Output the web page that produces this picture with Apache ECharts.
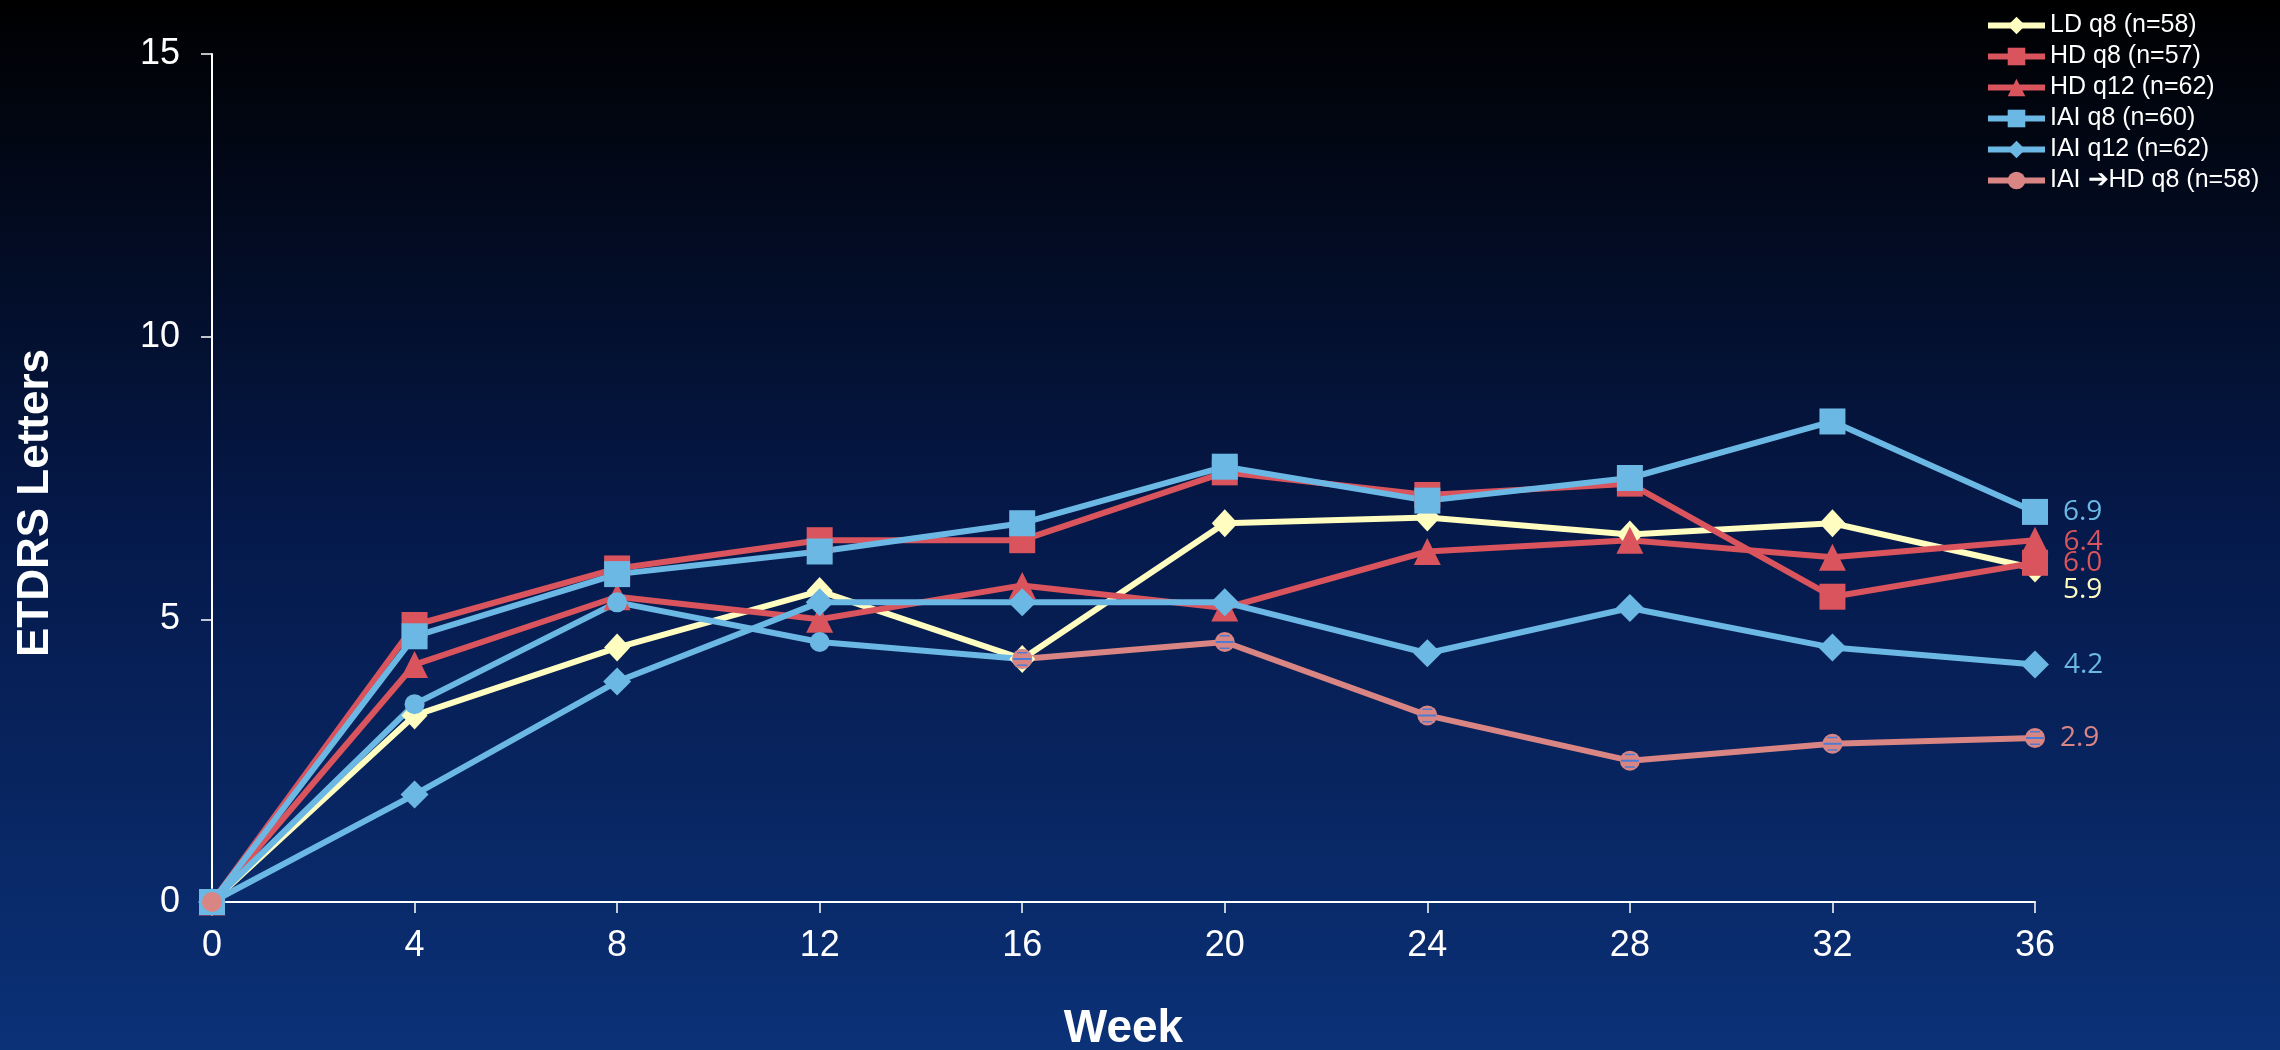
<!DOCTYPE html>
<html>
<head>
<meta charset="utf-8">
<title>ETDRS Letters by Week</title>
<script src="https://cdn.jsdelivr.net/npm/echarts@6/dist/echarts.min.js"></script>
<style>
  html, body { margin: 0; padding: 0; background: #000; }
  #chart { width: 2280px; height: 1050px; }
</style>
</head>
<body>
<div id="chart"></div>
<script>
// data
var weeks = [0, 4, 8, 12, 16, 20, 24, 28, 32, 36];
var yTicks = [0, 5, 10, 15];

var ldQ8 = [0, 3.3, 4.5, 5.5, 4.3, 6.7, 6.8, 6.5, 6.7, 5.9];
var hdQ8 = [0, 4.9, 5.9, 6.4, 6.4, 7.6, 7.2, 7.4, 5.4, 6.0];
var hdQ12 = [0, 4.2, 5.4, 5.0, 5.6, 5.2, 6.2, 6.4, 6.1, 6.4];
var iaiQ8 = [0, 4.7, 5.8, 6.2, 6.7, 7.7, 7.1, 7.5, 8.5, 6.9];
var iaiQ12 = [0, 1.9, 3.9, 5.3, 5.3, 5.3, 4.4, 5.2, 4.5, 4.2];
var iaiHdQ8 = [0, 3.5, 5.3, 4.6, 4.3, 4.6, 3.3, 2.5, 2.8, 2.9];
var switchWeekIdx = 4; // IAI until week 16, then HD q8

var names = ['LD q8 (n=58)', 'HD q8 (n=57)', 'HD q12 (n=62)', 'IAI q8 (n=60)', 'IAI q12 (n=62)', 'IAI \u2794HD q8 (n=58)'];

var YELLOW = '#fffdc0';
var RED = '#d9545c';
var BLUE = '#6cb8e4';
var SALMON = '#d98584';
var STRIPE = '#4f7bd0';

var chart = echarts.init(document.getElementById('chart'));

// turn values into [week, value] pairs, labelling the last one
function toPoints(vals, color, labelOffset) {
    var last = vals.length - 1;
    return vals.map(function (v, i) {
        if (v === null) return [weeks[i], null];
        if (i === last && color) {
            return {
                value: [weeks[i], v],
                label: {
                    show: true,
                    position: 'right',
                    distance: 15,
                    offset: labelOffset || [0, 0],
                    color: color,
                    fontFamily: 'Open Sans',
                    fontSize: 28,
                    formatter: function (p) { return p.value[1].toFixed(1); }
                }
            };
        }
        return [weeks[i], v];
    });
}

function lineSeries(name, vals, color, symbol, size, labelOffset) {
    return {
        name: name,
        type: 'line',
        data: toPoints(vals, color, labelOffset),
        symbol: symbol,
        symbolSize: size,
        showAllSymbol: true,
        connectNulls: false,
        lineStyle: { color: color, width: 6 },
        itemStyle: { color: color, opacity: 1 },
        emphasis: { disabled: true },
        animation: false
    };
}

// IAI -> HD: blue circles up to the switch, salmon after
var iaiPart = iaiHdQ8.map(function (v, i) { return i <= switchWeekIdx ? v : null; });
var hdPart = iaiHdQ8.map(function (v, i) { return (i >= switchWeekIdx || i === 0) ? v : null; });
var stripePart = iaiHdQ8.map(function (v, i) { return i >= switchWeekIdx ? v : null; });

var series = [
    lineSeries(names[0], ldQ8, YELLOW, 'diamond', [26, 28], [0, 22]),
    lineSeries(names[1], hdQ8, RED, 'rect', 26, [0, 0]),
    lineSeries(names[2], hdQ12, RED, 'triangle', 27, [0, 2]),
    lineSeries(names[3], iaiQ8, BLUE, 'rect', 26, [0, 0]),
    lineSeries(names[4], iaiQ12, BLUE, 'diamond', [28, 28], [0, 0]),
    {
        name: 'IAI part',
        type: 'line',
        data: toPoints(iaiPart, null),
        symbol: 'circle',
        symbolSize: 20,
        showAllSymbol: true,
        lineStyle: { color: BLUE, width: 6 },
        itemStyle: { color: BLUE },
        emphasis: { disabled: true },
        animation: false
    },
    lineSeries(names[5], hdPart, SALMON, 'circle', 20, [0, 0]),
    {
        name: 'stripes',
        type: 'line',
        data: toPoints(stripePart, null),
        symbol: 'path://M5,3h10v1.5h-10z M1,9h18v2h-18z M5,15.5h10v1.5h-10z',
        symbolSize: [18, 14],
        showAllSymbol: true,
        lineStyle: { width: 0, opacity: 0 },
        itemStyle: { color: STRIPE },
        silent: true,
        emphasis: { disabled: true },
        animation: false
    }
];

var option = {
    backgroundColor: {
        type: 'linear', x: 0, y: 0, x2: 0, y2: 1,
        colorStops: [
            { offset: 0, color: '#000000' },
            { offset: 0.08, color: '#01040c' },
            { offset: 0.5, color: '#05194a' },
            { offset: 1, color: '#0b3177' }
        ]
    },
    textStyle: { fontFamily: 'Liberation Sans' },
    grid: { left: 212, right: 245, top: 54, bottom: 148, outerBoundsMode: 'none' },
    legend: {
        data: names,
        orient: 'vertical',
        left: 1980,
        top: 8,
        align: 'left',
        itemWidth: 57,
        itemHeight: 22,
        itemGap: 6,
        lineStyle: { width: 6 },
        textStyle: { color: '#ffffff', fontSize: 25, lineHeight: 24, fontFamily: 'Liberation Sans' }
    },
    xAxis: {
        type: 'value',
        min: weeks[0],
        max: weeks[weeks.length - 1],
        interval: 4,
        name: 'Week',
        nameLocation: 'middle',
        nameGap: 104,
        nameTextStyle: { color: '#ffffff', fontSize: 46, fontWeight: 'bold', fontFamily: 'Liberation Sans' },
        axisLine: { lineStyle: { color: '#ffffff', width: 2 } },
        axisTick: { show: true, length: 11, lineStyle: { color: '#ffffff', width: 1.5 } },
        axisLabel: { color: '#ffffff', fontSize: 36, margin: 26 },
        splitLine: { show: false }
    },
    yAxis: {
        type: 'value',
        min: yTicks[0],
        max: yTicks[yTicks.length - 1],
        interval: 5,
        name: 'ETDRS Letters',
        nameLocation: 'middle',
        nameGap: 154,
        nameTextStyle: { color: '#ffffff', fontSize: 44, fontWeight: 'bold', fontFamily: 'Liberation Sans', padding: [0, 50, 0, 0] },
        axisLine: { show: true, lineStyle: { color: '#ffffff', width: 2 } },
        axisTick: { show: true, length: 11, lineStyle: { color: '#ffffff', width: 1.5 } },
        axisLabel: { color: '#ffffff', fontSize: 36, margin: 32 },
        splitLine: { show: false }
    },
    series: series
};

chart.setOption(option);
</script>
</body>
</html>
